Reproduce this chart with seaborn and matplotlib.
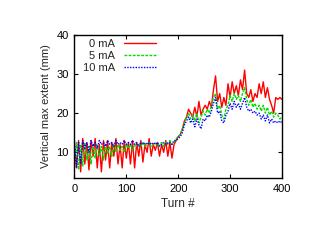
import numpy as np
import pandas as pd
import matplotlib
matplotlib.use('Agg')
import matplotlib.pyplot as plt
import seaborn as sns

# turn number, sampled every 4 turns
turns = list(range(0, 401, 4))

# vertical max extent (mm) for each beam current
extent_0mA = [12, 6, 13, 5, 13.5, 7, 12.5, 5.5, 13, 9,
              13.5, 6, 12, 5, 13, 8, 13, 6, 12.5, 9,
              13.5, 7, 12, 6, 13, 8.5, 12.5, 7, 13, 6,
              12.5, 9, 13, 7.5, 12, 10, 13.5, 9, 12, 10.5,
              12.5, 9, 12, 10, 13, 9, 12.5, 8.5, 12, 13,
              14, 14.5, 16, 18, 19, 21, 20, 19, 21.5, 19,
              23, 19.5, 21, 22, 21, 23, 21.5, 26, 29.5, 23,
              25, 21.5, 24, 22, 27.5, 24, 28, 25, 27, 24.5,
              28.5, 26, 31, 25, 24, 26, 23, 25, 24, 27.5,
              25, 28, 24, 26.5, 23.5, 22, 20, 24, 23.5, 24,
              23.5]
extent_5mA = [7, 12.5, 5.5, 12, 6.5, 12.5, 8, 11.5, 7, 12,
              8.5, 12, 9, 11.5, 8, 12, 9.5, 11.5, 9, 12,
              10, 12, 10.5, 11.5, 10, 12, 11, 12, 10.5, 12,
              11.5, 12, 11.5, 12.5, 11.5, 12, 12.5, 11.5, 12, 12.5,
              11.5, 12, 12.5, 11.5, 12.5, 12, 13, 12, 12.5, 13.5,
              14, 14.5, 16, 17.5, 19, 20, 18.5, 19.5, 18, 20,
              17.5, 19, 20.5, 19.5, 21, 20, 22, 24, 25, 21,
              22, 19.5, 18.5, 21, 22, 24.5, 23, 25, 23.5, 24.5,
              23, 25, 26.5, 23.5, 22, 23.5, 21.5, 22.5, 21, 22,
              20.5, 22, 20, 21.5, 19.5, 20.5, 19, 20, 19.5, 18.5,
              19]
extent_10mA = [13, 6, 12.5, 7, 13, 11, 12.5, 10, 13, 11.5,
               12.5, 11, 13, 12, 12.5, 11.5, 13, 12, 12.5, 11.5,
               13, 12, 12.5, 12, 13, 12, 12.5, 12, 13, 12,
               12.5, 11.5, 12.5, 12, 12.5, 12, 12.5, 12, 12.5, 12,
               12.5, 11.5, 12, 12.5, 12, 12.5, 12.5, 12, 13, 13,
               13.5, 14, 15, 17, 18, 19, 17.5, 18.5, 16.5, 18.5,
               17, 16, 18.5, 18, 19.5, 19, 20.5, 22.5, 24, 20,
               20.5, 18, 17.5, 19.5, 20.5, 22.5, 21, 23, 21.5, 22.5,
               21, 22.5, 24, 21.5, 20.5, 21, 20, 20.5, 19.5, 20,
               18.5, 19.5, 18, 19.5, 17.5, 18.5, 17.5, 18, 17.5, 18,
               17.5]

labels = ['0 mA', '5 mA', '10 mA']
colors = ['#ff0000', '#00dd00', '#0000ff']
styles = ['-', (0, (2, 1)), (0, (1, 1))]

sns.set_style('ticks')
plt.rcParams['font.family'] = ['Liberation Sans', 'DejaVu Sans']
plt.rcParams['font.size'] = 8

fig = plt.figure(figsize=(3.14, 2.42), dpi=100)
ax = fig.add_axes([0.237, 0.264, 0.661, 0.592])

for vals, lab, c, ls in zip([extent_0mA, extent_5mA, extent_10mA], labels, colors, styles):
    df = pd.DataFrame({'Turn': turns, 'Extent': vals})
    sns.lineplot(data=df, x='Turn', y='Extent', ax=ax, color=c, label=lab,
                 linewidth=1.0, linestyle=ls)

ax.set_xlim(0, 400)
ax.set_ylim(3.4, 40)
ax.set_xticks([0, 100, 200, 300, 400])
ax.set_yticks([10, 20, 30, 40])
ax.tick_params(direction='in', length=3, width=0.8, top=True, right=True,
               labelsize=8, colors='black', pad=4)
for s in ax.spines.values():
    s.set_linewidth(1.0)
    s.set_color('black')
ax.set_xlabel('Turn #', fontsize=8.5, labelpad=3)
ax.set_ylabel('Vertical max extent (mm)', fontsize=8, labelpad=4)

# gnuplot-style key: label first, right aligned, then line sample
ax.legend(loc='upper right', bbox_to_anchor=(0.415, 1.0), frameon=False,
          markerfirst=False, handlelength=2.9, handletextpad=0.8,
          labelspacing=0.15, borderaxespad=0.2, borderpad=0.2, fontsize=8)

fig.savefig('out.png', dpi=100)
